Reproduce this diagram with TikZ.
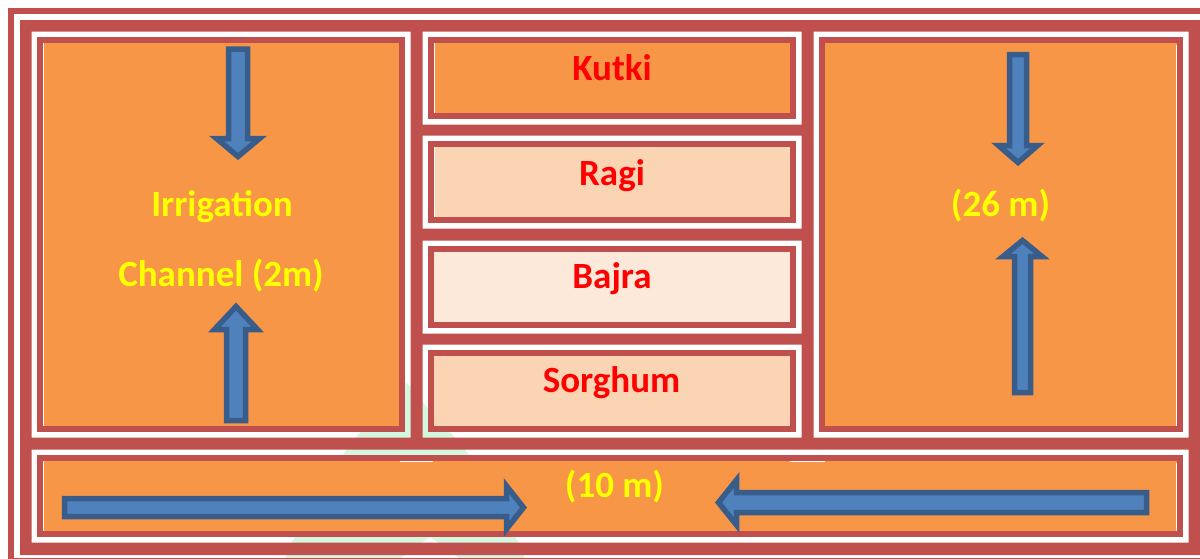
\documentclass[tikz,border=0pt]{standalone}
\usepackage{fontspec}
\setmainfont{Carlito}
\definecolor{framered}{HTML}{C0504D}
\definecolor{orng}{HTML}{F79646}
\definecolor{peach}{HTML}{FBD4B4}
\definecolor{cream}{HTML}{FDE9D9}
\definecolor{bluefill}{HTML}{4F81BD}
\definecolor{blueline}{HTML}{385D8A}
\definecolor{wmark}{HTML}{D5F7E0}
\definecolor{txtred}{HTML}{FF0000}
\definecolor{txtyel}{HTML}{FFFF00}
% vertical block arrow: cx, tail y, head-base y, tip y, shaft half, head half
\newcommand\vblock[6]{%
  \draw[blockarrow] ({#1-#5},#2) -- ({#1+#5},#2) -- ({#1+#5},#3) -- ({#1+#6},#3)
    -- (#1,#4) -- ({#1-#6},#3) -- ({#1-#5},#3) -- cycle;}
% horizontal block arrow: cy, tail x, head-base x, tip x, shaft half, head half
\newcommand\hblock[6]{%
  \draw[blockarrow] (#2,{#1-#5}) -- (#2,{#1+#5}) -- (#3,{#1+#5}) -- (#3,{#1+#6})
    -- (#4,#1) -- (#3,{#1-#6}) -- (#3,{#1-#5}) -- cycle;}
\begin{document}
\begin{tikzpicture}[x=1pt,y=-1pt,
  plotbox/.style={draw=framered, line width=6pt, inner sep=0pt, outer sep=0pt},
  cropname/.style={text=txtred, font=\fontsize{37}{44}\selectfont\bfseries, inner sep=0pt, anchor=base},
  dimlabel/.style={text=txtyel, font=\fontsize{37}{44}\selectfont\bfseries, inner sep=0pt, anchor=base},
  blockarrow/.style={fill=bluefill, draw=blueline, line width=5.5pt, miter limit=10},
  hair/.style={draw=white, line width=1pt}]
\useasboundingbox (0,0) rectangle (1200,558);
\clip (0,0) rectangle (1200,558);
\fill[white] (0,0) rectangle (1200,558);
% faint watermark behind the frame
\fill[wmark] (407,383) -- (425,405) -- (450,432) -- (467,452) -- (517,540) -- (530,570)
  -- (280,570) -- (293,540) -- (345,452) -- (360,432) -- (389,405) -- cycle;
\fill[white] (430,537) -- (475,570) -- (385,570) -- cycle;
% red frame with white gaps around each plot
\fill[framered, even odd rule] (20,20) rectangle (1200,555)
  (31.5,31.5) rectangle (410.5,437.5)
  (422.5,31.5) rectangle (801.5,124.5)
  (422.5,135.5) rectangle (801.5,228.5)
  (422.5,240.5) rectangle (801.5,333.5)
  (422.5,344.5) rectangle (801.5,437.5)
  (813.5,31.5) rectangle (1188.5,437.5)
  (31.5,449.5) rectangle (1188.5,542.5);
\draw[framered, line width=6pt] (11,11) rectangle (1209,561);
% plots
\node[plotbox, fill=orng, minimum width=362pt, minimum height=389pt] (channel) at (221,234.5) {};
\node[plotbox, fill=orng, minimum width=362pt, minimum height=76pt] (kutki) at (612,78) {};
\node[plotbox, fill=peach, minimum width=362pt, minimum height=76pt] (ragi) at (612,182) {};
\node[plotbox, fill=cream, minimum width=362pt, minimum height=76pt] (bajra) at (612,287) {};
\node[plotbox, fill=peach, minimum width=362pt, minimum height=76pt] (sorghum) at (612,391) {};
\node[plotbox, fill=orng, minimum width=358pt, minimum height=389pt] (side) at (1001,234.5) {};
\node[plotbox, fill=orng, minimum width=1140pt, minimum height=76pt] (bottom) at (610,496) {};
% hairlines
\draw[hair] (43.5,43) -- (43.5,426);
\draw[hair] (434.5,43) -- (434.5,113);
\draw[hair] (434.5,147) -- (434.5,217);
\draw[hair] (1176.5,45) -- (1176.5,426);
\draw[hair] (43.5,461) -- (43.5,531);
\draw[hair] (1176.5,463) -- (1176.5,531);
\draw[hair] (400,461.5) -- (433,461.5);
\draw[hair] (790,461.5) -- (825,461.5);
% arrows
\vblock{238}{49}{138.5}{156.5}{9.5}{21.5}
\vblock{236}{420.5}{329.5}{306.5}{9.5}{21.5}
\vblock{1018}{54.5}{145.5}{162.5}{8.5}{19.5}
\vblock{1022.5}{392.5}{256.5}{240.5}{8}{19.5}
\hblock{507.5}{64.5}{506.5}{523.5}{9}{21.5}
\hblock{502.5}{1146.5}{736.5}{718.5}{10}{22.5}
% labels
\node[cropname] (tkutki) at (612,80) {Kutki};
\node[cropname] (tragi) at (612,185) {Ragi};
\node[cropname] (tbajra) at (612,288.3) {Bajra};
\node[cropname] (tsorghum) at (611.5,392.7) {Sorghum};
\node[dimlabel] (tirr) at (222,216.7) {Irrigation};
\node[dimlabel] (tchan) at (221,286) {Channel (2m)};
\node[dimlabel] (tside) at (1000.5,216.7) {(26 m)};
\node[dimlabel] (tbottom) at (614.5,497.3) {(10 m)};
\end{tikzpicture}
\end{document}
